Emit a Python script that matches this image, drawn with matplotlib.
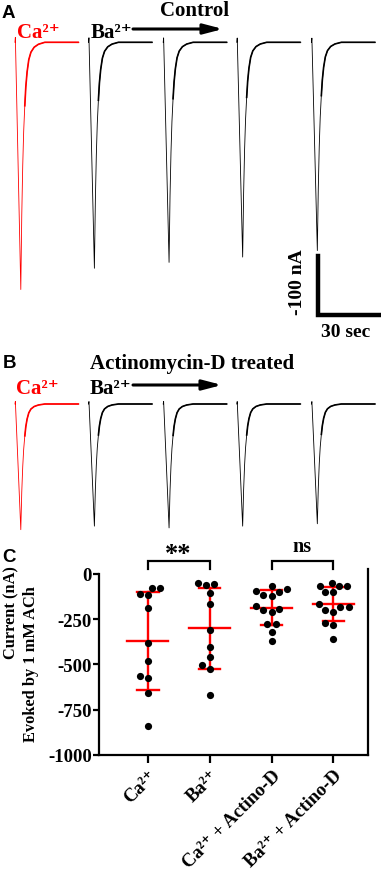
import numpy as np
import matplotlib
matplotlib.use('Agg')
import matplotlib.pyplot as plt
from matplotlib.patches import FancyArrowPatch

# ---------------- data ----------------
# Panel A / B: peak ACh-evoked currents (nA) of the five consecutive traces
ctrl_peaks_nA = [-419, -383, -373, -364, -353]
actd_peaks_nA = [-213, -207, -210, -207, -203]
onset_s = [7.0, 41.5, 76.5, 111.0, 146.0]
trace_colors = ['#ff0000', 'black', 'black', 'black', 'black']
# normalised response shape (time after onset, fraction of peak)
shape_t_s = [0.0, 0.2, 2.75, 3.2, 3.65, 4.1, 4.6, 5.1, 5.7, 6.5, 7.5, 9.0, 11.0, 14.0, 30.0]
shape_frac = [0.0, -0.02, 1.0, 0.70, 0.50, 0.36, 0.26, 0.18, 0.12, 0.07, 0.04, 0.02, 0.008, 0.0, 0.0]
scale_bar_nA = 100
scale_bar_s = 30

# Panel C: individual cells (nA)
groups = ['Ca²⁺', 'Ba²⁺', 'Ca²⁺ + Actino-D', 'Ba²⁺ + Actino-D']
ca_vals = [-76, -109, -118, -79, -190, -384, -481, -577, -564, -660, -839]
ba_vals = [-48, -61, -54, -103, -168, -310, -404, -459, -524, -504, -670]
ca_actd_vals = [-65, -120, -94, -83, -116, -101, -175, -208, -199, -194, -279, -279, -319, -373]
ba_actd_vals = [-65, -65, -48, -68, -102, -102, -182, -200, -167, -208, -182, -273, -282, -357]
y_ticks = [0, -250, -500, -750, -1000]
sig_labels = ['**', 'ns']

# ---------------- style ----------------
plt.rcParams['font.family'] = ['Liberation Serif', 'DejaVu Serif']
plt.rcParams['font.weight'] = 'bold'

W, H = 381, 879
fig = plt.figure(figsize=(W / 100, H / 100), dpi=100)


def rect(x0, y0, x1, y1):
    return [x0 / W, 1 - y1 / H, (x1 - x0) / W, (y1 - y0) / H]


# overlay axes in pixel coordinates for annotations
axO = fig.add_axes([0, 0, 1, 1], zorder=0)
axO.set_xlim(0, W)
axO.set_ylim(H, 0)
axO.axis('off')

PX_S = 64 / 30.0    # pixels per second
PX_NA = 0.59        # pixels per nA


def trace_axes(top_px, base_px, bot_px):
    ax = fig.add_axes(rect(0, top_px, W, bot_px), zorder=1)
    ax.set_xlim(0, W / PX_S)
    ax.set_ylim(-(bot_px - base_px) / PX_NA, (base_px - top_px) / PX_NA)
    ax.axis('off')
    ax.patch.set_alpha(0)
    return ax


def draw_traces(ax, peaks):
    st = np.array(shape_t_s)
    sf = np.array(shape_frac)
    ipk = int(np.argmax(sf))
    tail = [i for i in range(len(sf)) if i >= ipk and sf[i] <= 0.2]
    for t0, pk, col in zip(onset_s, peaks, trace_colors):
        ax.plot(t0 + st, pk * sf, color=col, lw=0.6, solid_joinstyle='round')
        ax.plot(t0 + st[tail[0] - 1:], pk * sf[tail[0] - 1:], color=col, lw=1.2,
                solid_joinstyle='round', solid_capstyle='butt')


axA = trace_axes(30, 43.3, 330)
draw_traces(axA, ctrl_peaks_nA)
# scale bar
sb_x = 318 / PX_S
sb_top = -(257 - 43.3) / PX_NA
axA.plot([sb_x, sb_x, sb_x + scale_bar_s],
         [sb_top, sb_top - scale_bar_nA, sb_top - scale_bar_nA],
         color='black', lw=3.2, solid_joinstyle='miter', solid_capstyle='projecting',
         clip_on=False)

axB = trace_axes(395, 405, 540)
draw_traces(axB, actd_peaks_nA)

# ---------------- annotations (panels A/B) ----------------
sans = ['Liberation Sans', 'DejaVu Sans']
axO.text(2, 18, 'A', fontsize=13.5, family=sans, weight='bold', va='baseline')
axO.text(195, 16, 'Control', fontsize=15, ha='center', va='baseline')
axO.text(17, 38, 'Ca²⁺', fontsize=15, color='#ff0000', va='baseline')
axO.text(91, 38, 'Ba²⁺', fontsize=15, color='black', va='baseline')


def arrow(x0, x1, y):
    ar = FancyArrowPatch((x0, y), (x1, y), arrowstyle='-|>,head_length=1.15,head_width=0.3',
                         mutation_scale=10, lw=2.2, color='black', shrinkA=0, shrinkB=0)
    axO.add_patch(ar)


arrow(133, 223, 30)
axO.text(297, 282, '-100 nA', fontsize=14, rotation=90, ha='center', va='center')
axO.text(346, 333, '30 sec', fontsize=14, ha='center', va='center')

axO.text(3, 368, 'B', fontsize=13.5, family=sans, weight='bold', va='baseline')
axO.text(90, 369, 'Actinomycin-D treated', fontsize=15, va='baseline')
axO.text(16, 394, 'Ca²⁺', fontsize=15, color='#ff0000', va='baseline')
axO.text(90, 394, 'Ba²⁺', fontsize=15, color='black', va='baseline')
arrow(133, 222, 386)

axO.text(2, 562, 'C', fontsize=13.5, family=sans, weight='bold', va='baseline')
axO.text(11, 613, 'Current (nA)', fontsize=11.8, rotation=90, ha='center', va='center')
axO.text(31, 664, 'Evoked by 1 mM ACh', fontsize=11.8, rotation=90, ha='center', va='center')

# ---------------- panel C ----------------
PX_C = (755.7 - 575.0) / 1000.0   # pixels per nA
CAT = 61.9                         # pixels per category
ytop = 30
axC = fig.add_axes(rect(99, 575 - ytop * PX_C, 368, 755.7), zorder=2)
axC.patch.set_alpha(0)
axC.set_ylim(-1000, ytop)
axC.set_xlim((99 - 147.7) / CAT, (368 - 147.7) / CAT)
for s in ['left', 'bottom', 'right']:
    axC.spines[s].set_linewidth(1.6)
axC.spines['top'].set_visible(False)
axC.spines['left'].set_bounds(-1000, 0)
axC.set_yticks(y_ticks)
axC.set_yticklabels([str(v) for v in y_ticks])
axC.set_xticks(range(len(groups)))
axC.set_xticklabels(groups, rotation=45, ha='right', rotation_mode='anchor')
axC.tick_params(axis='y', direction='out', length=4, width=1.6, labelsize=13.5, pad=1)
axC.tick_params(axis='x', direction='out', length=5.5, width=1.6, labelsize=13.5, pad=3)


def swarm(ypx, d):
    order = np.argsort(ypx)
    placed = []
    offs = np.zeros(len(ypx))
    for i in order:
        y = ypx[i]
        cands = [0.0]
        for xj, yj in placed:
            dy = abs(y - yj)
            if dy < d:
                dx = np.sqrt(d * d - dy * dy)
                cands += [xj - dx, xj + dx]
        cands.sort(key=lambda c: (round(abs(c), 6), c))
        for c in cands:
            if all((c - xj) ** 2 + (y - yj) ** 2 >= d * d - 1e-6 for xj, yj in placed):
                offs[i] = c
                placed.append((c, y))
                break
    return offs


all_vals = [ca_vals, ba_vals, ca_actd_vals, ba_actd_vals]
for i, vals in enumerate(all_vals):
    v = np.array(vals, dtype=float)
    m = v.mean()
    sd = v.std(ddof=1)
    offs = swarm(v * PX_C, 8.3) / CAT
    axC.scatter(i + offs, v, s=27, color='black', zorder=4, linewidths=0)
    axC.plot([i - 0.335, i + 0.335], [m, m], color='#ff0000', lw=1.7, zorder=3)
    axC.plot([i, i], [m - sd, m + sd], color='#ff0000', lw=1.7, zorder=3)
    for e in (m - sd, m + sd):
        axC.plot([i - 0.175, i + 0.175], [e, e], color='#ff0000', lw=1.7, zorder=3)

# significance brackets
y_br = (575 - 562.3) / PX_C
y_leg = (575 - 570.0) / PX_C
sig_base = [(575 - 561) / PX_C, (575 - 552) / PX_C]
for (a, b), lab, yb in zip([(0, 1), (2, 3)], sig_labels, sig_base):
    axC.plot([a, a, b, b], [y_leg, y_br, y_br, y_leg], color='black', lw=1.6,
             clip_on=False, solid_joinstyle='miter')
    axC.text((a + b) / 2, yb, lab, fontsize=19 if lab == '**' else 14.5,
             ha='center', va='baseline')

fig.savefig('out.png', dpi=100)
